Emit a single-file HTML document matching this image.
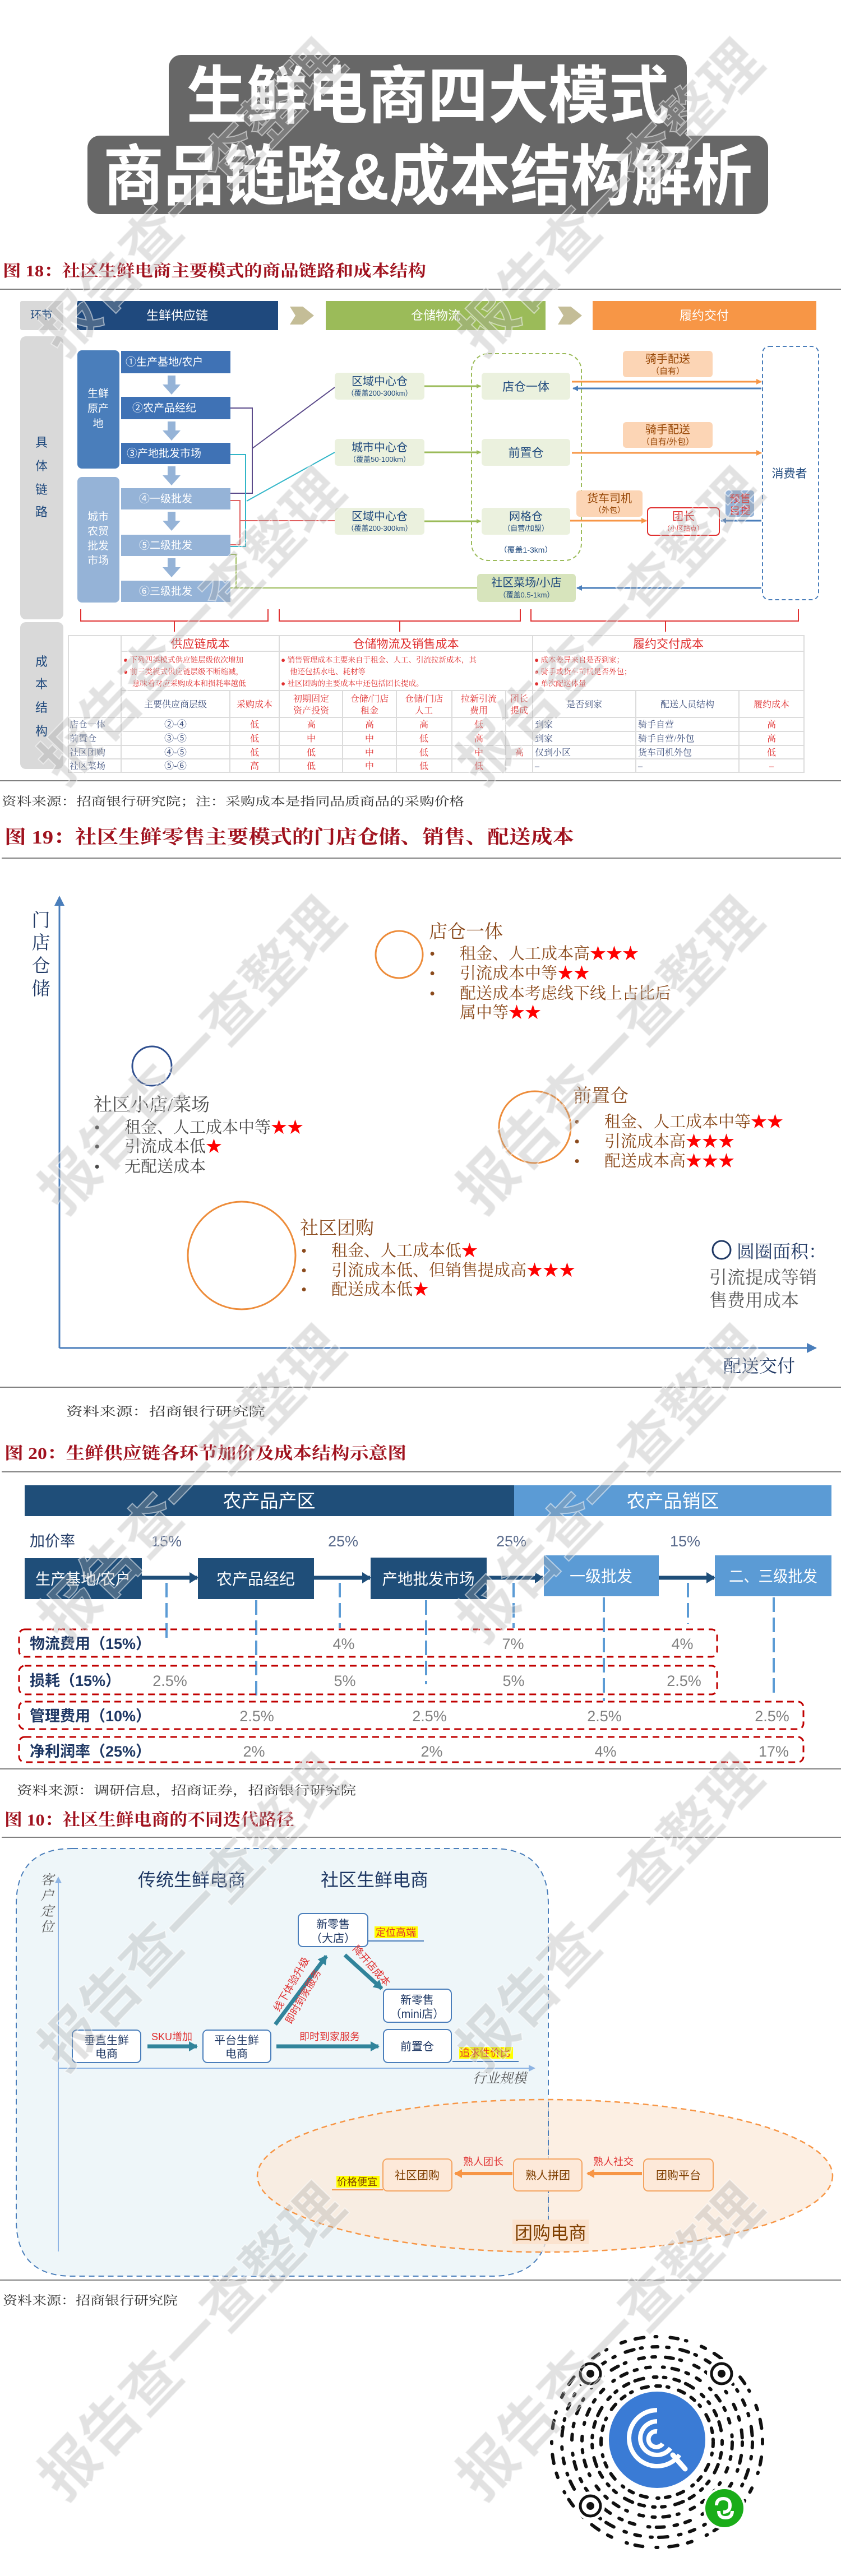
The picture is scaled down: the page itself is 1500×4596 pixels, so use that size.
<!DOCTYPE html>
<html><head><meta charset="utf-8">
<style>
html,body{margin:0;padding:0;background:#fff;}
svg{display:block;}
.s{font-family:"Liberation Sans","Noto Sans CJK SC",sans-serif;}
.r{font-family:"Liberation Serif","Noto Serif CJK SC",serif;}
</style></head>
<body>
<svg width="1500" height="4596" viewBox="0 0 1500 4596" xmlns="http://www.w3.org/2000/svg">
<defs>
<marker id="mg" markerWidth="8" markerHeight="8" refX="7" refY="4" orient="auto" markerUnits="userSpaceOnUse"><path d="M0,0 L8,4 L0,8z" fill="#9bbb59"/></marker>
<marker id="mo" markerWidth="10" markerHeight="10" refX="9" refY="5" orient="auto" markerUnits="userSpaceOnUse"><path d="M0,0 L10,5 L0,10z" fill="#f79646"/></marker>
<marker id="mb" markerWidth="10" markerHeight="10" refX="9" refY="5" orient="auto" markerUnits="userSpaceOnUse"><path d="M0,0 L10,5 L0,10z" fill="#4a7ebb"/></marker>
<marker id="mn" markerWidth="16" markerHeight="20" refX="14" refY="10" orient="auto" markerUnits="userSpaceOnUse"><path d="M0,0 L16,10 L0,20z" fill="#1f4e79"/></marker>
<marker id="mt" markerWidth="16" markerHeight="18" refX="14" refY="9" orient="auto" markerUnits="userSpaceOnUse"><path d="M0,0 L16,9 L0,18z" fill="#31849b"/></marker>
<marker id="ma" markerWidth="18" markerHeight="18" refX="16" refY="9" orient="auto" markerUnits="userSpaceOnUse"><path d="M0,0 L18,9 L0,18z" fill="#4a7ebb"/></marker>
<marker id="ms" markerWidth="12" markerHeight="12" refX="10" refY="6" orient="auto" markerUnits="userSpaceOnUse"><path d="M0,0 L12,6 L0,12z" fill="#8eb4e3"/></marker>
<marker id="mp" markerWidth="14" markerHeight="16" refX="12" refY="8" orient="auto" markerUnits="userSpaceOnUse"><path d="M0,0 L14,8 L0,16z" fill="#f79646"/></marker>
</defs>

<!-- TITLE -->
<rect x="301" y="98" width="924" height="160" rx="22" fill="#676767"/>
<rect x="156" y="242" width="1214" height="140" rx="22" fill="#676767"/>
<text class="s" x="763" y="210" text-anchor="middle" font-size="112" font-weight="bold" fill="#fff" textLength="861" lengthAdjust="spacingAndGlyphs">生鲜电商四大模式</text>
<text class="s" x="763" y="356" text-anchor="middle" font-size="118" font-weight="bold" fill="#fff" textLength="1158" lengthAdjust="spacingAndGlyphs">商品链路&amp;成本结构解析</text>

<!-- FIG 18 -->
<text class="r" x="5" y="493" font-size="29" font-weight="bold" fill="#a0121e" textLength="755" lengthAdjust="spacingAndGlyphs">图 18：社区生鲜电商主要模式的商品链路和成本结构</text>
<rect x="0" y="515" width="1500" height="2" fill="#808080"/>

<rect x="36" y="537" width="77" height="52" fill="#d9d9d9" rx="3"/>
<text class="s" x="74" y="563" text-anchor="middle" dominant-baseline="central" font-size="20" fill="#1f497d">环节</text>
<rect x="137" y="537" width="359" height="52" fill="#1f497d"/>
<text class="s" x="316" y="563" text-anchor="middle" dominant-baseline="central" font-size="22" fill="#fff">生鲜供应链</text>
<polygon points="517,547 540,547 560,563 540,579 517,579 527,563" fill="#c4bd97"/>
<rect x="581" y="537" width="392" height="52" fill="#9bbb59"/>
<text class="s" x="777" y="563" text-anchor="middle" dominant-baseline="central" font-size="22" fill="#fff">仓储物流</text>
<polygon points="995,547 1018,547 1038,563 1018,579 995,579 1005,563" fill="#c4bd97"/>
<rect x="1057" y="537" width="399" height="52" fill="#f79646"/>
<text class="s" x="1256" y="563" text-anchor="middle" dominant-baseline="central" font-size="22" fill="#fff">履约交付</text>

<rect x="36" y="600" width="77" height="505" rx="10" fill="#d9d9d9"/>
<g class="s" font-size="22" fill="#1f497d" text-anchor="middle">
<text x="74" y="797">具</text><text x="74" y="839">体</text><text x="74" y="881">链</text><text x="74" y="921">路</text>
</g>
<rect x="36" y="1110" width="77" height="262" rx="10" fill="#d9d9d9"/>
<g class="s" font-size="22" fill="#1f497d" text-anchor="middle">
<text x="74" y="1188">成</text><text x="74" y="1228">本</text><text x="74" y="1270">结</text><text x="74" y="1312">构</text>
</g>

<rect x="138" y="625" width="75" height="211" rx="8" fill="#4a7ebb"/>
<g class="s" font-size="19" fill="#fff" text-anchor="middle"><text x="175" y="708">生鲜</text><text x="175" y="735">原产</text><text x="175" y="762">地</text></g>
<rect x="138" y="851" width="75" height="224" rx="8" fill="#95b3d7"/>
<g class="s" font-size="19" fill="#fff" text-anchor="middle"><text x="175" y="928">城市</text><text x="175" y="954">农贸</text><text x="175" y="980">批发</text><text x="175" y="1006">市场</text></g>

<g class="s" font-size="19" fill="#fff">
<rect x="216" y="626" width="195" height="40" fill="#3f72b5"/><text x="224" y="652">①生产基地/农户</text>
<rect x="216" y="708" width="195" height="40" fill="#3f72b5"/><text x="236" y="734">②农产品经纪</text>
<rect x="216" y="790" width="195" height="38" fill="#3f72b5"/><text x="226" y="815">③产地批发市场</text>
<rect x="216" y="871" width="195" height="38" fill="#95b3d7"/><text x="248" y="896">④一级批发</text>
<rect x="216" y="954" width="195" height="38" fill="#95b3d7"/><text x="248" y="979">⑤二级批发</text>
<rect x="216" y="1036" width="195" height="38" fill="#95b3d7"/><text x="248" y="1061">⑥三级批发</text>
</g>
<g fill="#95b3d7">
<polygon points="299,670 313,670 313,686 322,686 306,704 290,686 299,686"/>
<polygon points="299,752 313,752 313,768 322,768 306,786 290,768 299,768"/>
<polygon points="299,832 313,832 313,848 322,848 306,866 290,848 299,848"/>
<polygon points="299,913 313,913 313,929 322,929 306,947 290,929 299,929"/>
<polygon points="299,996 313,996 313,1012 322,1012 306,1030 290,1012 299,1012"/>
</g>

<g fill="none" stroke-width="2">
<path d="M411,728 H450 V880 H411" stroke="#5b4a8a"/>
<path d="M450,800 L597,691" stroke="#5b4a8a"/>
<path d="M411,811 H438 V975 H411" stroke="#31b6c8"/>
<path d="M440,894 L597,807" stroke="#31b6c8"/>
<path d="M411,893 H428 V972 H411" stroke="#e06060"/>
<path d="M428,929 H597" stroke="#e06060"/>
<path d="M411,989 H421 V1049 H851 M411,1049 H421" stroke="#9bbb59"/>
</g>

<g class="s" text-anchor="middle">
<rect x="597" y="665" width="160" height="48" rx="6" fill="#ebf1de"/><text x="677" y="687" font-size="20" fill="#1f497d">区域中心仓</text><text x="677" y="706" font-size="13" fill="#1f497d">（覆盖200-300km）</text>
<rect x="597" y="783" width="160" height="48" rx="6" fill="#ebf1de"/><text x="677" y="805" font-size="20" fill="#1f497d">城市中心仓</text><text x="677" y="824" font-size="13" fill="#1f497d">（覆盖50-100km）</text>
<rect x="597" y="906" width="160" height="48" rx="6" fill="#ebf1de"/><text x="677" y="928" font-size="20" fill="#1f497d">区域中心仓</text><text x="677" y="947" font-size="13" fill="#1f497d">（覆盖200-300km）</text>
</g>
<rect x="841" y="631" width="196" height="369" rx="30" fill="none" stroke="#9bbb59" stroke-width="2" stroke-dasharray="7,5"/>
<g class="s" text-anchor="middle" fill="#1f497d">
<rect x="859" y="665" width="158" height="48" rx="6" fill="#ebf1de"/><text x="938" y="697" font-size="21">店仓一体</text>
<rect x="859" y="783" width="158" height="48" rx="6" fill="#ebf1de"/><text x="938" y="815" font-size="21">前置仓</text>
<rect x="859" y="906" width="158" height="48" rx="6" fill="#ebf1de"/><text x="938" y="928" font-size="20">网格仓</text><text x="938" y="947" font-size="13">（自营/加盟）</text>
<text x="938" y="986" font-size="14">（覆盖1-3km）</text>
<rect x="851" y="1024" width="176" height="50" rx="6" fill="#d7e4bc"/><text x="939" y="1046" font-size="20">社区菜场/小店</text><text x="939" y="1066" font-size="13">（覆盖0.5-1km）</text>
</g>
<g stroke="#9bbb59" stroke-width="3" marker-end="url(#mg)">
<line x1="757" y1="689" x2="857" y2="689"/><line x1="757" y1="807" x2="857" y2="807"/><line x1="757" y1="930" x2="857" y2="930"/>
</g>

<g class="s" text-anchor="middle" fill="#984807">
<rect x="1111" y="626" width="160" height="47" rx="6" fill="#fcd5b5"/><text x="1191" y="647" font-size="20">骑手配送</text><text x="1191" y="667" font-size="15">（自有）</text>
<rect x="1111" y="753" width="160" height="46" rx="6" fill="#fcd5b5"/><text x="1191" y="773" font-size="20">骑手配送</text><text x="1191" y="793" font-size="15">（自有/外包）</text>
<rect x="1028" y="875" width="118" height="47" rx="6" fill="#fcd5b5"/><text x="1087" y="896" font-size="20">货车司机</text><text x="1087" y="915" font-size="14">（外包）</text>
</g>
<rect x="1155" y="906" width="128" height="49" rx="6" fill="#fff" stroke="#e03030" stroke-width="2"/>
<text class="s" x="1219" y="928" text-anchor="middle" font-size="20" fill="#e03030">团长</text>
<text class="s" x="1219" y="947" text-anchor="middle" font-size="12" fill="#e03030">（小区站点）</text>
<rect x="1294" y="875" width="51" height="47" rx="5" fill="#95b3d7"/>
<text class="s" x="1320" y="896" text-anchor="middle" font-size="19" fill="#e03030">预售</text>
<text class="s" x="1320" y="917" text-anchor="middle" font-size="19" fill="#e03030">自提</text>
<rect x="1360" y="618" width="100" height="452" rx="12" fill="none" stroke="#4a7ebb" stroke-width="2" stroke-dasharray="7,5"/>
<text class="s" x="1408" y="852" text-anchor="middle" font-size="21" fill="#1f497d">消费者</text>
<g stroke-width="3">
<line x1="1020" y1="681" x2="1358" y2="681" stroke="#f79646" marker-end="url(#mo)"/>
<line x1="1358" y1="693" x2="1022" y2="693" stroke="#4a7ebb" marker-end="url(#mb)"/>
<line x1="1020" y1="808" x2="1358" y2="808" stroke="#f79646" marker-end="url(#mo)"/>
<line x1="1017" y1="929" x2="1153" y2="929" stroke="#f79646" marker-end="url(#mo)"/>
<line x1="1358" y1="929" x2="1286" y2="929" stroke="#4a7ebb" marker-end="url(#mb)"/>
<line x1="1358" y1="1049" x2="1029" y2="1049" stroke="#4a7ebb" marker-end="url(#mb)"/>
</g>

<g fill="none" stroke="#e03030" stroke-width="2">
<path d="M144,1087 V1108 H478 V1087 M311,1108 V1127"/>
<path d="M498,1087 V1108 H928 V1087 M713,1108 V1127"/>
<path d="M947,1087 V1108 H1424 V1087 M1187,1108 V1127"/>
</g>

<g stroke="#dcdcdc" stroke-width="2" fill="none">
<rect x="122" y="1134" width="1312" height="244"/>
<line x1="216" y1="1134" x2="216" y2="1378"/>
<line x1="216" y1="1162" x2="1434" y2="1162"/>
<line x1="216" y1="1232" x2="1434" y2="1232"/>
<line x1="122" y1="1280" x2="1434" y2="1280"/>
<line x1="122" y1="1305" x2="1434" y2="1305"/>
<line x1="122" y1="1330" x2="1434" y2="1330"/>
<line x1="122" y1="1354" x2="1434" y2="1354"/>
<line x1="498" y1="1134" x2="498" y2="1378"/>
<line x1="950" y1="1134" x2="950" y2="1378"/>
<line x1="410" y1="1232" x2="410" y2="1378"/>
<line x1="611" y1="1232" x2="611" y2="1378"/>
<line x1="707" y1="1232" x2="707" y2="1378"/>
<line x1="806" y1="1232" x2="806" y2="1378"/>
<line x1="902" y1="1232" x2="902" y2="1378"/>
<line x1="1134" y1="1232" x2="1134" y2="1378"/>
<line x1="1318" y1="1232" x2="1318" y2="1378"/>
</g>
<g class="s" font-size="21" fill="#e03030" text-anchor="middle">
<text x="357" y="1156">供应链成本</text><text x="724" y="1156">仓储物流及销售成本</text><text x="1192" y="1156">履约交付成本</text>
</g>
<g class="r" font-size="13.5" fill="#e03030">
<text x="220" y="1182">● 下列四类模式供应链层级依次增加</text>
<text x="220" y="1203">● 前三类模式供应链层级不断缩减，</text>
<text x="236" y="1224">意味着对应采购成本和损耗率越低</text>
<text x="501" y="1182">● 销售管理成本主要来自于租金、人工、引流拉新成本，其</text>
<text x="517" y="1203">他还包括水电、耗材等</text>
<text x="501" y="1224">● 社区团购的主要成本中还包括团长提成。</text>
<text x="953" y="1182">● 成本差异来自是否到家；</text>
<text x="953" y="1203">● 骑手或货车司机是否外包；</text>
<text x="953" y="1224">● 单次配送体量</text>
</g>
<g class="r" font-size="16" text-anchor="middle">
<text x="313" y="1262" fill="#3d4f7c">主要供应商层级</text>
<text x="454" y="1262" fill="#e03030">采购成本</text>
<text x="555" y="1252" fill="#e03030">初期固定</text><text x="555" y="1273" fill="#e03030">资产投资</text>
<text x="659" y="1252" fill="#e03030">仓储/门店</text><text x="659" y="1273" fill="#e03030">租金</text>
<text x="756" y="1252" fill="#e03030">仓储/门店</text><text x="756" y="1273" fill="#e03030">人工</text>
<text x="854" y="1252" fill="#e03030">拉新引流</text><text x="854" y="1273" fill="#e03030">费用</text>
<text x="926" y="1252" fill="#e03030">团长</text><text x="926" y="1273" fill="#e03030">提成</text>
<text x="1042" y="1262" fill="#3d4f7c">是否到家</text>
<text x="1226" y="1262" fill="#3d4f7c">配送人员结构</text>
<text x="1376" y="1262" fill="#e03030">履约成本</text>
</g>
<g class="r" font-size="16" fill="#3d4f7c">
<text x="124" y="1298">店仓一体</text><text x="124" y="1323">前置仓</text><text x="124" y="1348">社区团购</text><text x="124" y="1372">社区菜场</text>
<text x="954" y="1298">到家</text><text x="954" y="1323">到家</text><text x="954" y="1348">仅到小区</text><text x="954" y="1372">–</text>
<text x="1138" y="1298">骑手自营</text><text x="1138" y="1323">骑手自营/外包</text><text x="1138" y="1348">货车司机外包</text><text x="1138" y="1372">–</text>
</g>
<g class="s" font-size="17" fill="#3d4f7c" text-anchor="middle">
<text x="313" y="1298">②-④</text><text x="313" y="1323">③-⑤</text><text x="313" y="1348">④-⑤</text><text x="313" y="1372">⑤-⑥</text>
</g>
<g class="r" font-size="16" fill="#e03030" text-anchor="middle">
<text x="454" y="1298">低</text><text x="454" y="1323">低</text><text x="454" y="1348">低</text><text x="454" y="1372">高</text>
<text x="555" y="1298">高</text><text x="555" y="1323">中</text><text x="555" y="1348">低</text><text x="555" y="1372">低</text>
<text x="659" y="1298">高</text><text x="659" y="1323">中</text><text x="659" y="1348">中</text><text x="659" y="1372">中</text>
<text x="756" y="1298">高</text><text x="756" y="1323">低</text><text x="756" y="1348">低</text><text x="756" y="1372">低</text>
<text x="854" y="1298">低</text><text x="854" y="1323">高</text><text x="854" y="1348">中</text><text x="854" y="1372">低</text>
<text x="926" y="1348">高</text>
<text x="1376" y="1298">高</text><text x="1376" y="1323">高</text><text x="1376" y="1348">低</text><text x="1376" y="1372">–</text>
</g>
<rect x="0" y="1392" width="1500" height="2" fill="#808080"/>
<text class="r" x="3" y="1437" font-size="21" fill="#333" textLength="825" lengthAdjust="spacingAndGlyphs">资料来源：招商银行研究院；注：采购成本是指同品质商品的采购价格</text>

<!-- FIG 19 -->
<text class="r" x="8" y="1505" font-size="34" font-weight="bold" fill="#a0121e" textLength="1016" lengthAdjust="spacingAndGlyphs">图 19：社区生鲜零售主要模式的门店仓储、销售、配送成本</text>
<rect x="3" y="1530" width="1497" height="2" fill="#808080"/>
<line x1="106" y1="2405" x2="106" y2="1600" stroke="#4a7ebb" stroke-width="3" marker-end="url(#ma)"/>
<line x1="106" y1="2405" x2="1455" y2="2405" stroke="#4a7ebb" stroke-width="3" marker-end="url(#ma)"/>
<g class="r" font-size="33" fill="#1f3864" text-anchor="middle">
<text x="73" y="1653">门</text><text x="73" y="1693">店</text><text x="73" y="1734">仓</text><text x="73" y="1775">储</text>
</g>
<text class="r" x="1290" y="2448" font-size="32" fill="#1f3864">配送交付</text>

<circle cx="712" cy="1703" r="42" fill="none" stroke="#ed8c3a" stroke-width="3"/>
<circle cx="271" cy="1902" r="35" fill="none" stroke="#2f4f8f" stroke-width="3"/>
<circle cx="954" cy="2011" r="64" fill="none" stroke="#ed8c3a" stroke-width="3"/>
<circle cx="431" cy="2240" r="96" fill="none" stroke="#ed8c3a" stroke-width="3"/>

<g class="r" font-size="29" fill="#8b4a1c">
<text x="765" y="1673" font-size="33">店仓一体</text>
<text x="766" y="1711">•</text><text x="820" y="1711">租金、人工成本高<tspan fill="#f00">★★★</tspan></text>
<text x="766" y="1746">•</text><text x="820" y="1746">引流成本中等<tspan fill="#f00">★★</tspan></text>
<text x="766" y="1782">•</text><text x="820" y="1782">配送成本考虑线下线上占比后</text>
<text x="820" y="1816">属中等<tspan fill="#f00">★★</tspan></text>
</g>
<g class="r" font-size="29" fill="#4a4a4a">
<text x="167" y="1982" font-size="33">社区小店/菜场</text>
<text x="168" y="2021">•</text><text x="222" y="2021">租金、人工成本中等<tspan fill="#f00">★★</tspan></text>
<text x="168" y="2055">•</text><text x="222" y="2055">引流成本低<tspan fill="#f00">★</tspan></text>
<text x="168" y="2091">•</text><text x="222" y="2091">无配送成本</text>
</g>
<g class="r" font-size="29" fill="#8b4a1c">
<text x="1022" y="1966" font-size="33">前置仓</text>
<text x="1024" y="2011">•</text><text x="1078" y="2011">租金、人工成本中等<tspan fill="#f00">★★</tspan></text>
<text x="1024" y="2046">•</text><text x="1078" y="2046">引流成本高<tspan fill="#f00">★★★</tspan></text>
<text x="1024" y="2081">•</text><text x="1078" y="2081">配送成本高<tspan fill="#f00">★★★</tspan></text>
</g>
<g class="r" font-size="29" fill="#8b4a1c">
<text x="535" y="2202" font-size="33">社区团购</text>
<text x="537" y="2241">•</text><text x="591" y="2241">租金、人工成本低<tspan fill="#f00">★</tspan></text>
<text x="537" y="2276">•</text><text x="591" y="2276">引流成本低、但销售提成高<tspan fill="#f00">★★★</tspan></text>
<text x="537" y="2310">•</text><text x="591" y="2310">配送成本低<tspan fill="#f00">★</tspan></text>
</g>
<circle cx="1287" cy="2230" r="16" fill="none" stroke="#1f3864" stroke-width="3"/>
<g class="r" font-size="32" fill="#595959">
<text x="1314" y="2244" fill="#1f3864">圆圈面积：</text>
<text x="1265" y="2290">引流提成等销</text>
<text x="1265" y="2331">售费用成本</text>
</g>
<rect x="0" y="2474" width="1500" height="2" fill="#808080"/>

<!-- FIG 20 -->
<text class="r" x="118" y="2526" font-size="22" fill="#333" textLength="355" lengthAdjust="spacingAndGlyphs">资料来源：招商银行研究院</text>
<text class="r" x="8" y="2603" font-size="30" font-weight="bold" fill="#a0121e" textLength="717" lengthAdjust="spacingAndGlyphs">图 20：生鲜供应链各环节加价及成本结构示意图</text>
<rect x="3" y="2625" width="1497" height="2" fill="#808080"/>
<rect x="44" y="2650" width="873" height="55" fill="#1f4e79"/>
<rect x="917" y="2650" width="566" height="55" fill="#5b9bd5"/>
<text class="s" x="480" y="2678" text-anchor="middle" dominant-baseline="central" font-size="33" fill="#fff">农产品产区</text>
<text class="s" x="1200" y="2678" text-anchor="middle" dominant-baseline="central" font-size="33" fill="#fff">农产品销区</text>
<g class="s" font-size="27" fill="#5a6b8c">
<text x="53" y="2759" fill="#1f3864">加价率</text>
<text x="297" y="2759" text-anchor="middle">15%</text><text x="612" y="2759" text-anchor="middle">25%</text>
<text x="912" y="2759" text-anchor="middle">25%</text><text x="1222" y="2759" text-anchor="middle">15%</text>
</g>
<g stroke="#1f4e79" stroke-width="7" marker-end="url(#mn)">
<line x1="253" y1="2815" x2="352" y2="2815"/><line x1="560" y1="2815" x2="660" y2="2815"/>
<line x1="868" y1="2815" x2="968" y2="2815"/><line x1="1175" y1="2815" x2="1274" y2="2815"/>
</g>
<rect x="44" y="2780" width="209" height="73" fill="#1f4e79"/>
<rect x="353" y="2780" width="207" height="73" fill="#1f4e79"/>
<rect x="661" y="2779" width="207" height="74" fill="#1f4e79"/>
<rect x="970" y="2775" width="205" height="73" fill="#5b9bd5"/>
<rect x="1275" y="2775" width="208" height="73" fill="#5b9bd5"/>
<g class="s" font-size="28" fill="#fff" text-anchor="middle">
<text x="148" y="2827" textLength="170" lengthAdjust="spacingAndGlyphs">生产基地/农户</text>
<text x="456" y="2827">农产品经纪</text>
<text x="764" y="2827" textLength="165" lengthAdjust="spacingAndGlyphs">产地批发市场</text>
<text x="1072" y="2822">一级批发</text>
<text x="1379" y="2822" textLength="158" lengthAdjust="spacingAndGlyphs">二、三级批发</text>
</g>
<g stroke="#5b9bd5" stroke-width="4" stroke-dasharray="26,10" fill="none">
<line x1="297" y1="2824" x2="297" y2="2928"/><line x1="457" y1="2855" x2="457" y2="3025"/>
<line x1="606" y1="2824" x2="606" y2="2905"/><line x1="760" y1="2855" x2="760" y2="3005"/>
<line x1="916" y1="2824" x2="916" y2="2905"/><line x1="1077" y1="2850" x2="1077" y2="3035"/>
<line x1="1227" y1="2824" x2="1227" y2="2897"/><line x1="1380" y1="2850" x2="1380" y2="3020"/>
</g>
<g fill="none" stroke="#c00000" stroke-width="3" stroke-dasharray="12,8">
<rect x="34" y="2907" width="1245" height="49" rx="10"/>
<rect x="34" y="2972" width="1245" height="51" rx="10"/>
<rect x="34" y="3036" width="1399" height="49" rx="10"/>
<rect x="34" y="3099" width="1399" height="45" rx="10"/>
</g>
<g class="s" font-size="27" fill="#1f3864" font-weight="bold">
<text x="53" y="2942">物流费用（15%）</text><text x="53" y="3008">损耗（15%）</text>
<text x="53" y="3071">管理费用（10%）</text><text x="53" y="3134">净利润率（25%）</text>
</g>
<g class="s" font-size="27" fill="#808080" text-anchor="middle">
<text x="613" y="2942">4%</text><text x="915" y="2942">7%</text><text x="1217" y="2942">4%</text>
<text x="303" y="3008">2.5%</text><text x="615" y="3008">5%</text><text x="916" y="3008">5%</text><text x="1220" y="3008">2.5%</text>
<text x="458" y="3071">2.5%</text><text x="766" y="3071">2.5%</text><text x="1078" y="3071">2.5%</text><text x="1377" y="3071">2.5%</text>
<text x="453" y="3134">2%</text><text x="770" y="3134">2%</text><text x="1080" y="3134">4%</text><text x="1380" y="3134">17%</text>
</g>
<rect x="0" y="3155" width="1500" height="2" fill="#808080"/>
<text class="r" x="30" y="3202" font-size="22" fill="#333" textLength="605" lengthAdjust="spacingAndGlyphs">资料来源：调研信息，招商证券，招商银行研究院</text>

<!-- FIG 10 -->
<text class="r" x="8" y="3257" font-size="30" font-weight="bold" fill="#a0121e" textLength="517" lengthAdjust="spacingAndGlyphs">图 10：社区生鲜电商的不同迭代路径</text>
<rect x="3" y="3277" width="1497" height="2" fill="#808080"/>
<path d="M129,3298 H878 Q978,3298 978,3398 V3961 Q978,4061 878,4061 H129 Q29,4061 29,3961 V3398 Q29,3298 129,3298Z" fill="#eef6f9" stroke="#4a7ebb" stroke-width="2" stroke-dasharray="10,7"/>
<ellipse cx="972" cy="3882" rx="513" ry="136" fill="#fbe9da" fill-opacity="0.75" stroke="#f79646" stroke-width="2.5" stroke-dasharray="10,7"/>
<line x1="978" y1="3750" x2="978" y2="4000" stroke="#4a7ebb" stroke-width="2" stroke-dasharray="10,7"/>
<line x1="104" y1="4017" x2="104" y2="3350" stroke="#8eb4e3" stroke-width="2" marker-end="url(#ms)"/>
<line x1="104" y1="3690" x2="953" y2="3690" stroke="#8eb4e3" stroke-width="2" marker-end="url(#ms)"/>
<g class="r" font-size="24" fill="#595959" font-style="italic" text-anchor="middle">
<text x="84" y="3362">客</text><text x="84" y="3390">户</text><text x="84" y="3418">定</text><text x="84" y="3446">位</text>
</g>
<text class="r" x="843" y="3716" font-size="24" fill="#595959" font-style="italic">行业规模</text>
<text class="s" x="342" y="3365" text-anchor="middle" font-size="32" fill="#1f3864">传统生鲜电商</text>
<text class="s" x="668" y="3365" text-anchor="middle" font-size="32" fill="#1f3864">社区生鲜电商</text>

<g fill="#fff" stroke="#4a7ebb" stroke-width="2">
<rect x="129" y="3622" width="122" height="58" rx="8"/>
<rect x="362" y="3622" width="121" height="58" rx="8"/>
<rect x="684" y="3621" width="121" height="59" rx="8"/>
<rect x="532" y="3414" width="124" height="59" rx="8"/>
<rect x="684" y="3549" width="121" height="59" rx="8"/>
</g>
<g class="s" font-size="20" fill="#1f3864" text-anchor="middle">
<text x="190" y="3647">垂直生鲜</text><text x="190" y="3671">电商</text>
<text x="422" y="3647">平台生鲜</text><text x="422" y="3671">电商</text>
<text x="744" y="3658">前置仓</text>
<text x="594" y="3440">新零售</text><text x="594" y="3465">（大店）</text>
<text x="744" y="3575">新零售</text><text x="744" y="3600">（mini店）</text>
</g>
<g stroke="#31849b" stroke-width="7" marker-end="url(#mt)">
<line x1="263" y1="3651" x2="351" y2="3651"/>
<line x1="493" y1="3651" x2="675" y2="3651"/>
<line x1="491" y1="3612" x2="582" y2="3490"/>
<line x1="615" y1="3488" x2="681" y2="3548"/>
</g>
<g class="s" font-size="18" fill="#e03030">
<text x="270" y="3640">SKU增加</text>
<text x="534" y="3640">即时到家服务</text>
<text transform="translate(498,3590) rotate(-60)">线下体验升级</text>
<text transform="translate(519,3612) rotate(-60)">即时到家服务</text>
<text transform="translate(628,3478) rotate(48)">降开店成本</text>
</g>
<rect x="668" y="3437" width="77" height="21" fill="#ffff00"/>
<text class="s" x="670" y="3454" font-size="18" fill="#e03030">定位高端</text>
<line x1="657" y1="3463" x2="756" y2="3463" stroke="#4a7ebb" stroke-width="2"/>
<rect x="819" y="3652" width="96" height="21" fill="#ffff00"/>
<text class="s" x="820" y="3669" font-size="18" fill="#e03030">追求性价比</text>
<line x1="807" y1="3678" x2="925" y2="3678" stroke="#4a7ebb" stroke-width="2"/>

<g fill="#fde9d9" stroke="#f4a460" stroke-width="2">
<rect x="683" y="3852" width="123" height="57" rx="8"/>
<rect x="916" y="3852" width="122" height="57" rx="8"/>
<rect x="1148" y="3852" width="124" height="57" rx="8"/>
</g>
<g class="s" font-size="20" fill="#7f3f00" text-anchor="middle">
<text x="744" y="3888">社区团购</text><text x="977" y="3888">熟人拼团</text><text x="1210" y="3888">团购平台</text>
</g>
<g stroke="#f79646" stroke-width="6" marker-end="url(#mp)">
<line x1="914" y1="3878" x2="812" y2="3878"/>
<line x1="1145" y1="3878" x2="1048" y2="3878"/>
</g>
<g class="s" font-size="18" fill="#e03030"><text x="826" y="3863">熟人团长</text><text x="1058" y="3863">熟人社交</text></g>
<rect x="600" y="3882" width="77" height="21" fill="#ffff00"/>
<text class="s" x="601" y="3899" font-size="18" fill="#7f3f00">价格便宜</text>
<line x1="592" y1="3907" x2="683" y2="3907" stroke="#f79646" stroke-width="2"/>
<rect x="914" y="3960" width="136" height="44" fill="#fbe3cf"/>
<text class="s" x="982" y="3995" text-anchor="middle" font-size="32" fill="#7f3f00">团购电商</text>
<rect x="0" y="4067" width="1500" height="2" fill="#808080"/>
<text class="r" x="5" y="4112" font-size="22" fill="#333" textLength="312" lengthAdjust="spacingAndGlyphs">资料来源：招商银行研究院</text>

<!-- QR -->
<g fill="none" stroke="#111" stroke-width="6" stroke-linecap="round">
<circle cx="1172" cy="4357" r="188" stroke-dasharray="3,24,14,14,2,28,8,18,16,20" stroke-width="6"/>
<circle cx="1172" cy="4357" r="170" stroke-dasharray="10,16,4,20,16,12,3,18"/>
<circle cx="1172" cy="4357" r="152" stroke-dasharray="6,18,14,12,3,24,10,14"/>
<circle cx="1172" cy="4357" r="134" stroke-dasharray="12,14,5,16,8,22,3,14"/>
<circle cx="1172" cy="4357" r="116" stroke-dasharray="4,15,10,12,16,18,6,12"/>
<circle cx="1172" cy="4357" r="100" stroke-dasharray="8,12,3,18,12,14"/>
</g>
<g fill="#fff"><circle cx="1053" cy="4235" r="26"/><circle cx="1287" cy="4235" r="26"/><circle cx="1053" cy="4471" r="26"/></g>
<g fill="none" stroke="#111" stroke-width="5"><circle cx="1053" cy="4235" r="18"/><circle cx="1287" cy="4235" r="18"/><circle cx="1053" cy="4471" r="18"/></g>
<g fill="#111"><circle cx="1053" cy="4235" r="7"/><circle cx="1287" cy="4235" r="7"/><circle cx="1053" cy="4471" r="7"/></g>
<circle cx="1172" cy="4353" r="92" fill="#fff"/>
<circle cx="1172" cy="4353" r="86" fill="#3a7bd5"/>
<path d="M1172,4300 a50,50 0 1,0 40,80 M1172,4320 a30,30 0 1,0 24,48 M1172,4338 a14,14 0 1,0 10,22" fill="none" stroke="#fff" stroke-width="8"/>
<line x1="1200" y1="4380" x2="1222" y2="4405" stroke="#fff" stroke-width="9" stroke-linecap="round"/>
<circle cx="1292" cy="4475" r="38" fill="#fff"/>
<circle cx="1292" cy="4475" r="34" fill="#1aad19"/>
<path d="M1278,4470 q0,-12 12,-12 q12,0 12,12 q0,12 -12,12 M1306,4480 q0,12 -12,12 q-12,0 -12,-12" fill="none" stroke="#fff" stroke-width="6"/>

<!-- WATERMARKS -->
<g class="s" font-size="104" font-weight="bold" fill="#a8a8a8" fill-opacity="0.33" stroke="#fff" stroke-width="2" stroke-opacity="0.5">
<text x="115" y="640" transform="rotate(-46 115 640)">报告查一查整理</text>
<text x="861" y="640" transform="rotate(-46 861 640)">报告查一查整理</text>
<text x="115" y="1405" transform="rotate(-46 115 1405)">报告查一查整理</text>
<text x="861" y="1405" transform="rotate(-46 861 1405)">报告查一查整理</text>
<text x="115" y="2170" transform="rotate(-46 115 2170)">报告查一查整理</text>
<text x="861" y="2170" transform="rotate(-46 861 2170)">报告查一查整理</text>
<text x="115" y="2935" transform="rotate(-46 115 2935)">报告查一查整理</text>
<text x="861" y="2935" transform="rotate(-46 861 2935)">报告查一查整理</text>
<text x="115" y="3700" transform="rotate(-46 115 3700)">报告查一查整理</text>
<text x="861" y="3700" transform="rotate(-46 861 3700)">报告查一查整理</text>
<text x="115" y="4465" transform="rotate(-46 115 4465)">报告查一查整理</text>
<text x="861" y="4465" transform="rotate(-46 861 4465)">报告查一查整理</text>
</g>
</svg>
</body></html>
